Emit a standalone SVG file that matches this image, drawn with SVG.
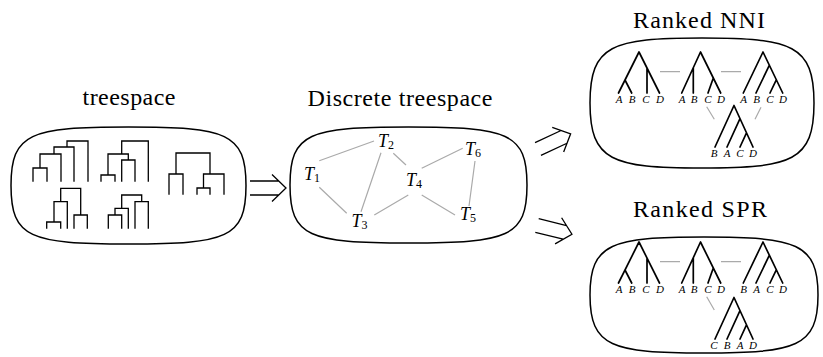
<svg xmlns="http://www.w3.org/2000/svg" width="823" height="357" viewBox="0 0 823 357">
<defs>
<style>
.blob{fill:none;stroke:#000;stroke-width:1.5}
.ct{fill:none;stroke:#000;stroke-width:1.3;stroke-linecap:square}
.rt{fill:none;stroke:#000;stroke-width:1.7;stroke-linecap:round;stroke-linejoin:round}
.edge{fill:none;stroke:#aaa;stroke-width:1.2}
text{font-family:'Liberation Serif','Tinos','DejaVu Serif','Noto Serif','FreeSerif','Nimbus Roman','Times New Roman',Times,serif;fill:#000}
.title{font-size:24px;text-anchor:middle}
.leaf{font-style:italic;font-size:11px;text-anchor:middle}
.tl{font-style:italic;font-size:18px}
.sub{font-style:normal;font-size:12px}
.arr{fill:none;stroke:#000;stroke-width:1.3}
</style>
<path id="dbl" class="arr" d="M0,-7 H28.7 M0,7 H28.7 M22,-13.5 L36,0 L22,13.5"/>
</defs>

<g id="treespace">
<path class="blob" d="M11,185.5 C11,133 30,127 128.5,127 C227,127 246,133 246,185.5 C246,238 227,244 128.5,244 C30,244 11,238 11,185.5 Z"/>
<text class="title" x="129" y="105" textLength="93" lengthAdjust="spacing">treespace</text>
<path class="ct" d="M33,181 V168 H47 V181 M40,168 V154 H61 V181 M54,154 V147 H74 V181 M67,147 V141 H88 V181"/>
<path class="ct" d="M101,181 V175 H115 V181 M121.7,181 V160 H135 V181 M108,175 V154 H128.3 V160 M121.7,154 V141 H148.3 V181"/>
<path class="ct" d="M169,194 V174 H183 V194 M197,194 V188 H210 V194 M203.5,188 V174 H224 V194 M176,174 V153 H210 V174"/>
<path class="ct" d="M46.7,228 V222 H60.7 V228 M54,222 V201.7 H67.3 V228 M74,228 V215 H87.3 V228 M60.7,201.7 V188.3 H80.7 V215"/>
<path class="ct" d="M108.3,228 V215 H121.7 V228 M115,215 V208.3 H128.3 V228 M135,228 V201.7 H148.3 V228 M121.7,208.3 V195 H141.7 V201.7"/>
</g>

<g id="discrete">
<path class="blob" d="M290,185 C290,133 309,127 408.5,127 C508,127 527,133 527,185 C527,237 508,243 408.5,243 C309,243 290,237 290,185 Z"/>
<text class="title" x="400" y="106" textLength="185" lengthAdjust="spacing">Discrete treespace</text>
</g>
<g id="T1"><text class="tl" x="304" y="180">T<tspan class="sub" dy="2">1</tspan></text></g>
<g id="T2"><text class="tl" x="378" y="146.7">T<tspan class="sub" dy="2">2</tspan></text></g>
<g id="T3"><text class="tl" x="351.5" y="226.7">T<tspan class="sub" dy="2">3</tspan></text></g>
<g id="T4"><text class="tl" x="406" y="186">T<tspan class="sub" dy="2">4</tspan></text></g>
<g id="T5"><text class="tl" x="460" y="220">T<tspan class="sub" dy="2">5</tspan></text></g>
<g id="T6"><text class="tl" x="465" y="155">T<tspan class="sub" dy="2">6</tspan></text></g>

<g id="nni">
<path class="blob" d="M590,103 C590,45 612,38 702,38 C792,38 814,45 814,103 C814,161 792,168 702,168 C612,168 590,161 590,103 Z"/>
<text class="title" x="699" y="28" textLength="132" lengthAdjust="spacing">Ranked NNI</text>
<path class="rt" d="M618.5,93 L639,52 L659.5,93 M625,80 L631.7,93 M647,68.5 V93"/>
<text class="leaf" y="103"><tspan x="619">A</tspan><tspan x="632">B</tspan><tspan x="646">C</tspan><tspan x="660">D</tspan></text>
<path class="rt" d="M681.7,93 L700.5,52 L720.7,93 M693.3,67.7 V93 M713.3,78 L708,93"/>
<text class="leaf" y="103"><tspan x="682">A</tspan><tspan x="694">B</tspan><tspan x="708">C</tspan><tspan x="721">D</tspan></text>
<path class="rt" d="M743.3,93 L763,52 L782.7,93 M769.4,65.2 L756,93 M776.3,79.8 L770,93"/>
<text class="leaf" y="103"><tspan x="743.5">A</tspan><tspan x="756.5">B</tspan><tspan x="770">C</tspan><tspan x="783">D</tspan></text>
<path class="rt" d="M715,147 L734,105.5 L753,147 M740,118.6 L727,147 M746.5,132.8 L740,147"/>
<text class="leaf" y="156.7"><tspan x="714">B</tspan><tspan x="727">A</tspan><tspan x="740">C</tspan><tspan x="753">D</tspan></text>
</g>

<g id="spr">
<path class="blob" d="M590,295 C590,243 612,237 704,237 C796,237 818,243 818,295 C818,347 796,353 704,353 C612,353 590,347 590,295 Z"/>
<text class="title" x="700" y="217" textLength="134" lengthAdjust="spacing">Ranked SPR</text>
<path class="rt" d="M618.5,283 L639,242 L659.5,283 M625,270 L631.7,283 M647,258.5 V283"/>
<text class="leaf" y="293"><tspan x="619">A</tspan><tspan x="632">B</tspan><tspan x="646">C</tspan><tspan x="660">D</tspan></text>
<path class="rt" d="M681.7,283 L700.5,242 L720.7,283 M693.3,257.7 V283 M713.3,268 L708,283"/>
<text class="leaf" y="293"><tspan x="682">A</tspan><tspan x="694">B</tspan><tspan x="708">C</tspan><tspan x="721">D</tspan></text>
<path class="rt" d="M743.3,283 L763,242 L782.7,283 M769.4,255.2 L756,283 M776.3,269.8 L770,283"/>
<text class="leaf" y="293"><tspan x="743.5">B</tspan><tspan x="756.5">A</tspan><tspan x="770">C</tspan><tspan x="783">D</tspan></text>
<path class="rt" d="M715,339 L734,297.5 L753,339 M740,310.6 L727,339 M746.5,324.8 L740,339"/>
<text class="leaf" y="348.7"><tspan x="714">C</tspan><tspan x="727">B</tspan><tspan x="740">A</tspan><tspan x="753">D</tspan></text>
</g>

<g id="connectors">
<path class="edge" d="M319.3,160.7 L374,141 M381,152.7 L361,211.7 M393.3,153.3 L406,165 M421.7,168.3 L462.7,148.3 M475,161 L469,206 M319.3,187.3 L346.7,213.3 M374.3,215 L408.3,195 M421.7,195 L455,215"/>
<path class="edge" d="M660,71.7 H680 M721,71.7 H741 M706.7,106.7 L714.3,119.3 M761,107.3 L755,119.3"/>
<path class="edge" d="M660,261.7 H680 M721,261.7 H741 M706.7,296.7 L714.3,310"/>
<use href="#dbl" transform="translate(250,188)"/>
<use href="#dbl" transform="translate(538,149) rotate(-25)"/>
<use href="#dbl" transform="translate(537,225.5) rotate(14)"/>
</g>
</svg>
